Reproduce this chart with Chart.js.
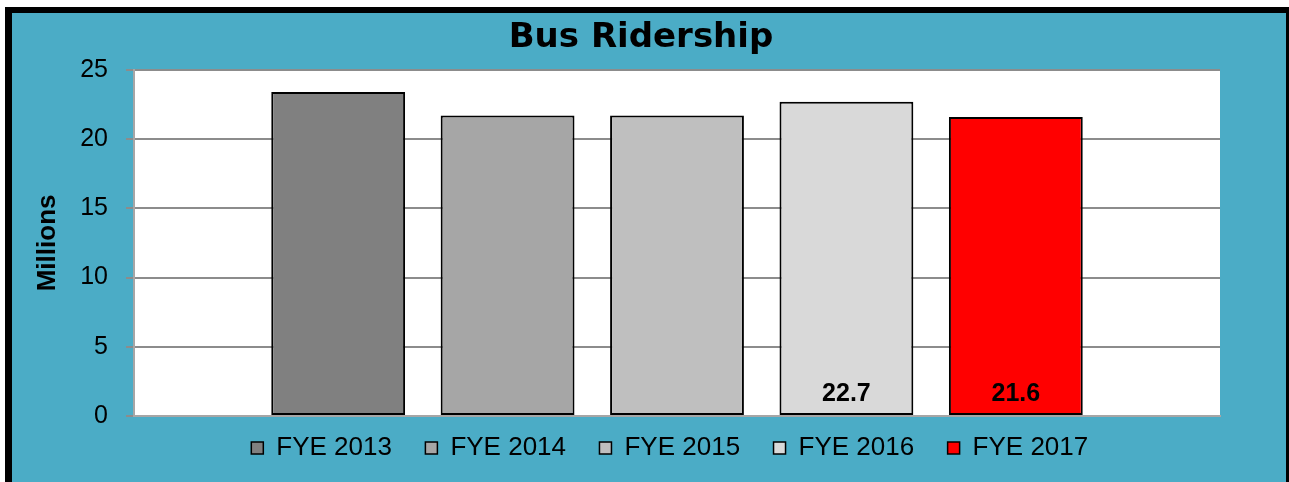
<!DOCTYPE html>
<html>
<head>
<meta charset="utf-8">
<title>Bus Ridership</title>
<script src="https://cdn.jsdelivr.net/npm/chart.js@4.4.1/dist/chart.umd.min.js"></script>
<style>
  html, body { margin: 0; padding: 0; background: #fff; overflow: hidden; }
  #frame {
    position: absolute; left: 5px; top: 7px;
    border: 6px solid #000; border-left-width: 7px;
    background: #4bacc6;
    width: 1274px; height: 490px;
  }
  #frame canvas { display: block; }
</style>
</head>
<body>
<div id="frame"><canvas id="ridership-canvas" width="1274" height="469"></canvas></div>
<script>
'use strict';

const categories = [''];
const seriesNames = ['FYE 2013', 'FYE 2014', 'FYE 2015', 'FYE 2016', 'FYE 2017'];
const ridership   = [23.4, 21.7, 21.7, 22.7, 21.6];   // millions
const barColors   = ['#808080', '#a6a6a6', '#bfbfbf', '#d9d9d9', '#ff0000'];
const showValue   = [false, false, false, true, true];
const yTicks      = [0, 5, 10, 15, 20, 25];

(function() {
  const canvas = document.getElementById('ridership-canvas');
  if (!canvas) return;

  // white plot area + value labels sitting at the foot of the bars
  const plotDecor = {
    id: 'plotDecor',
    beforeDraw(chart) {
      const a = chart.chartArea, ctx = chart.ctx;
      ctx.save();
      ctx.fillStyle = '#fff';
      ctx.fillRect(a.left, a.top, a.right - a.left, a.bottom - a.top);
      ctx.restore();
    },
    afterDatasetsDraw(chart) {
      const ctx = chart.ctx;
      ctx.save();
      ctx.font = 'bold 25px "Liberation Sans", Arial, sans-serif';
      ctx.fillStyle = '#000';
      ctx.textAlign = 'center';
      ctx.textBaseline = 'middle';
      chart.data.datasets.forEach((ds, i) => {
        if (!showValue[i]) return;
        chart.getDatasetMeta(i).data.forEach((bar, j) => {
          ctx.fillText(ds.data[j].toFixed(1), bar.x, bar.base - 21);
        });
      });
      ctx.restore();
    }
  };

  new Chart(canvas, {
    type: 'bar',
    data: {
      labels: categories,
      datasets: seriesNames.map((name, i) => ({
        label: name,
        data: [ridership[i]],
        backgroundColor: barColors[i],
        borderColor: '#000',
        borderWidth: 2,
        borderSkipped: false,
        categoryPercentage: 0.78,
        barPercentage: 0.79
      }))
    },
    options: {
      responsive: false, animation: false,
      layout: { padding: { left: 4, right: 20, top: 0, bottom: 11 } },
      plugins: {
        title: {
          display: true, text: 'Bus Ridership', color: '#000',
          font: { family: 'DejaVu Sans', weight: 'bold', size: 34 },
          padding: { top: 5, bottom: 11 }
        },
        legend: {
          position: 'bottom', fullSize: false,
          labels: {
            color: '#000', boxWidth: 12, boxHeight: 12, padding: 19,
            font: { family: 'Liberation Sans', size: 26 },
            generateLabels: ch => Chart.defaults.plugins.legend.labels.generateLabels(ch)
              .map(l => Object.assign(l, { text: l.text + '\u00a0\u00a0', lineWidth: 1.5 }))
          }
        },
        tooltip: { enabled: false }
      },
      scales: {
        x: {
          grid: { display: false, drawTicks: false },
          ticks: { display: false },
          border: { display: true, color: '#a6a6a6', width: 2 },
          afterFit: s => { s.height = 0; }
        },
        y: {
          min: yTicks[0], max: yTicks[yTicks.length - 1],
          ticks: {
            stepSize: yTicks[1] - yTicks[0], color: '#000', padding: 18,
            font: { family: 'Liberation Sans', size: 25 }
          },
          grid: { color: '#8c8c8c', lineWidth: 2, tickLength: 8 },
          border: { color: '#a6a6a6', width: 2 },
          title: {
            display: true, text: 'Millions', color: '#000',
            font: { family: 'Liberation Sans', weight: 'bold', size: 26 },
            padding: { top: 16, bottom: 0 }
          },
          afterFit: s => { s.width = 118; }
        },
        yR: {
          type: 'linear', position: 'right', display: true,
          grid: { display: false }, ticks: { display: false }, border: { display: false },
          afterFit: s => { s.width = 46; }
        }
      }
    },
    plugins: [plotDecor]
  });
})();
</script>
</body>
</html>
